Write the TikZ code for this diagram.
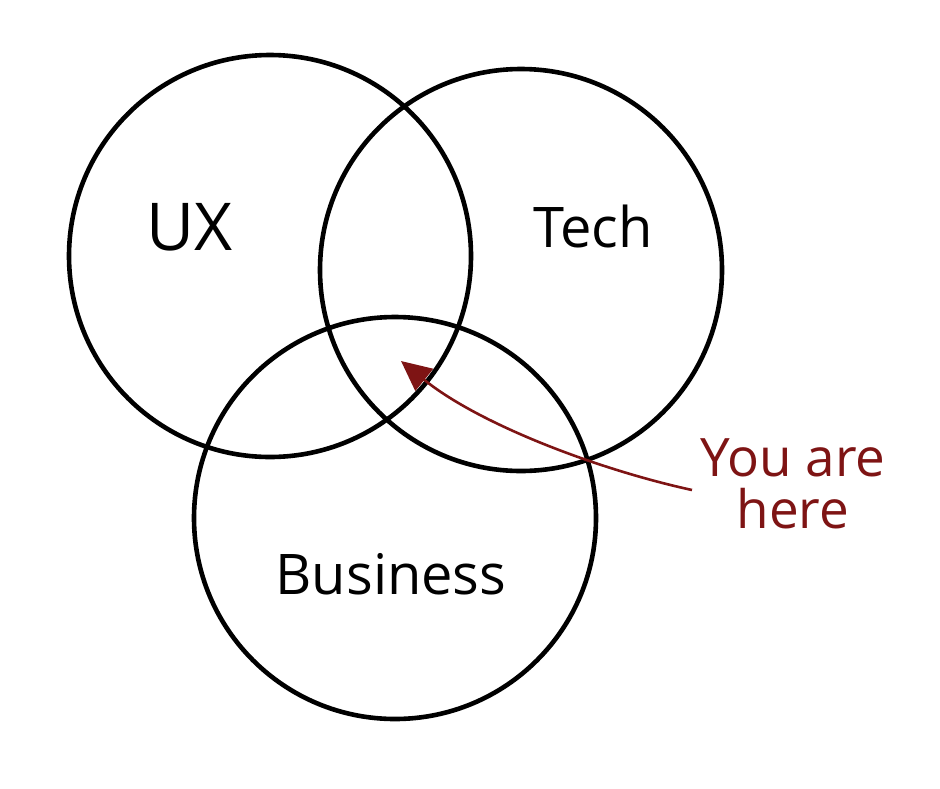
\documentclass[tikz,border=0pt]{standalone}
\usepackage{fontspec}
\setmainfont{Open Sans}
\usetikzlibrary{arrows.meta}
\definecolor{herered}{HTML}{7E1414}
\tikzset{
  venn/.style={circle, draw=black, line width=4.6pt, minimum size=402pt, inner sep=0pt},
  lbl/.style={font=\fontsize{56}{60}\selectfont, text=black, anchor=base, inner sep=0pt},
  here/.style={font=\fontsize{53}{52}\selectfont, text=herered, align=center, inner sep=0pt},
  herearrow/.style={draw=herered, line width=2.6pt, -{Triangle[length=30pt,width=28pt]}}
}
\begin{document}
\begin{tikzpicture}[x=1pt,y=-1pt]
\useasboundingbox (0,0) rectangle (940,788);
\node[venn] (ux) at (270,256) {};
\node[venn] (tech) at (521,270) {};
\node[venn] (biz) at (395,518) {};
\node[lbl, font=\fontsize{66}{70}\selectfont] (uxl) at (190,250) {UX};
\node[lbl] (techl) at (593,247) {Tech};
\node[lbl] (bizl) at (391,594) {Business};
\node[here] (youl) at (793,484) {You are\\here};
\coordinate (tail) at (692,490);
\coordinate (tip) at (401,361);
\draw[herearrow] (tail) .. controls (600,470) and (480,425) .. (tip);
\end{tikzpicture}
\end{document}
